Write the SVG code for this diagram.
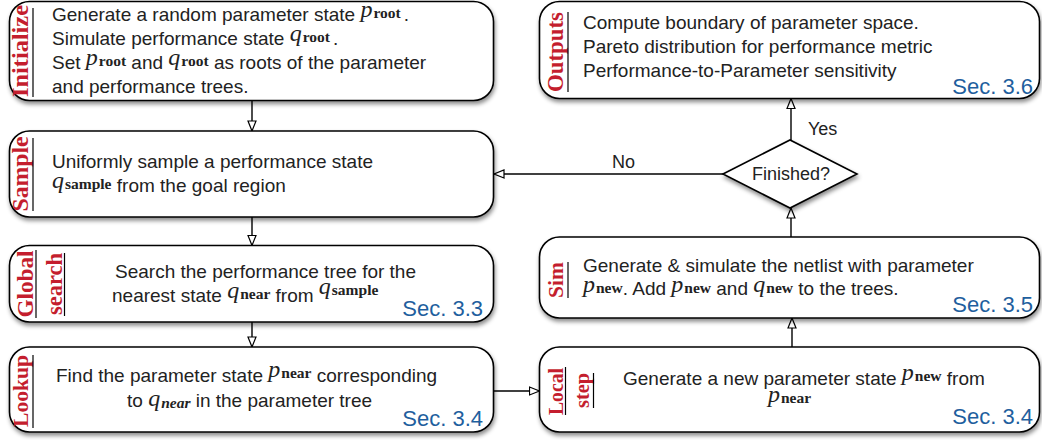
<svg xmlns="http://www.w3.org/2000/svg" width="1042" height="440" viewBox="0 0 1042 440">
  <defs>
    <filter id="shadow" x="-5%" y="-10%" width="110%" height="130%">
      <feDropShadow dx="1" dy="3" stdDeviation="2" flood-color="#000" flood-opacity="0.45"/>
    </filter>
    <marker id="arrow" viewBox="0 0 12 10" refX="11" refY="5" markerWidth="12" markerHeight="10" markerUnits="userSpaceOnUse" orient="auto">
      <path d="M1,1 L11,5 L1,9 Z" fill="#fff" stroke="#000" stroke-width="1.2" stroke-linejoin="miter"/>
    </marker>
  </defs>
  <style>
    .box { fill: #fff; stroke: #000; stroke-width: 1.6; filter: url(#shadow); }
    .t { font-family: "Liberation Sans", Arial, sans-serif; font-size: 19px; fill: #222; }
    .mi { font-family: "Liberation Serif", "Times New Roman", serif; font-style: italic; font-size: 24px; }
    .sb { font-family: "Liberation Serif", "Times New Roman", serif; font-weight: bold; font-size: 15.5px; }
    .sbi { font-family: "Liberation Serif", "Times New Roman", serif; font-weight: bold; font-style: italic; font-size: 15.5px; }
    .lbl { font-family: "Liberation Serif", "Times New Roman", serif; font-weight: bold; fill: #c41e2e; text-anchor: middle; }
    .rule { stroke: #000; stroke-width: 1.2; }
    .sec { font-family: "Liberation Sans", Arial, sans-serif; font-size: 22px; fill: #1f5f9e; text-anchor: end; }
    .edge { fill: none; stroke: #000; stroke-width: 1.4; marker-end: url(#arrow); }
    .elabel { font-family: "Liberation Sans", Arial, sans-serif; font-size: 18px; fill: #222; }
  </style>

  <!-- connectors -->
  <g id="connectors">
    <line class="edge" x1="252" y1="101" x2="252" y2="131"/>
    <line class="edge" x1="252" y1="217" x2="252" y2="245.5"/>
    <line class="edge" x1="252" y1="322" x2="252" y2="347"/>
    <line class="edge" x1="494" y1="391" x2="539.5" y2="391"/>
    <line class="edge" x1="792" y1="347" x2="792" y2="318"/>
    <line class="edge" x1="791" y1="237" x2="791" y2="208"/>
    <line class="edge" x1="791" y1="140" x2="791" y2="98.5"/>
    <line class="edge" x1="723" y1="174" x2="494" y2="174"/>
    <text class="elabel" x="808" y="135">Yes</text>
    <text class="elabel" x="612" y="168">No</text>
  </g>

  <!-- Initialize -->
  <g id="initialize">
    <rect class="box" x="9.5" y="1.5" width="484" height="99" rx="20"/>
    <text class="lbl" font-size="23" transform="translate(28,51) rotate(-90)" textLength="92" lengthAdjust="spacingAndGlyphs">Initialize</text>
    <line class="rule" x1="33" y1="8" x2="33" y2="97"/>
    <text class="t" x="52" y="21">Generate a random parameter state <tspan class="mi" dy="-4">p</tspan><tspan class="sb" dx="1" dy="1">root</tspan><tspan dx="3" dy="3">.</tspan></text>
    <text class="t" x="52" y="45">Simulate performance state <tspan class="mi" dy="-4">q</tspan><tspan class="sb" dx="1" dy="1">root</tspan><tspan dx="3" dy="3">.</tspan></text>
    <text class="t" x="52" y="69">Set <tspan class="mi" dy="-4">p</tspan><tspan class="sb" dx="1" dy="1">root</tspan><tspan dy="3"> and </tspan><tspan class="mi" dy="-4">q</tspan><tspan class="sb" dx="1" dy="1">root</tspan><tspan dy="3"> as roots of the parameter</tspan></text>
    <text class="t" x="52" y="93">and performance trees.</text>
  </g>

  <!-- Sample -->
  <g id="sample">
    <rect class="box" x="9.5" y="131" width="484" height="86" rx="20"/>
    <text class="lbl" font-size="23" transform="translate(28,174) rotate(-90)" textLength="75" lengthAdjust="spacingAndGlyphs">Sample</text>
    <line class="rule" x1="33" y1="138" x2="33" y2="211"/>
    <text class="t" x="52" y="168">Uniformly sample a performance state</text>
    <text class="t" x="52" y="192"><tspan class="mi" dy="-4">q</tspan><tspan class="sb" dx="1" dy="1">sample</tspan><tspan dy="3"> from the goal region</tspan></text>
  </g>

  <!-- Global search -->
  <g id="global-search">
    <rect class="box" x="9.5" y="245.5" width="484" height="76.5" rx="20"/>
    <text class="lbl" font-size="23" transform="translate(33,284) rotate(-90)" textLength="67" lengthAdjust="spacingAndGlyphs">Global</text>
    <line class="rule" x1="36" y1="250" x2="36" y2="318"/>
    <text class="lbl" font-size="23" transform="translate(62,284) rotate(-90)" textLength="62" lengthAdjust="spacingAndGlyphs">search</text>
    <line class="rule" x1="64.5" y1="253" x2="64.5" y2="316"/>
    <text class="t" x="115" y="278">Search the performance tree for the</text>
    <text class="t" x="112" y="302">nearest state <tspan class="mi" dy="-4">q</tspan><tspan class="sb" dx="1" dy="1">near</tspan><tspan dy="3"> from </tspan><tspan class="mi" dy="-8">q</tspan><tspan class="sb" dx="1" dy="1">sample</tspan></text>
    <text class="sec" x="483" y="316">Sec. 3.3</text>
  </g>

  <!-- Lookup -->
  <g id="lookup">
    <rect class="box" x="9.5" y="347" width="484" height="85" rx="20"/>
    <text class="lbl" font-size="22" transform="translate(28,391) rotate(-90)" textLength="72" lengthAdjust="spacingAndGlyphs">Lookup</text>
    <line class="rule" x1="33" y1="355" x2="33" y2="428"/>
    <text class="t" x="56" y="382">Find the parameter state <tspan class="mi" dy="-5">p</tspan><tspan class="sb" dx="1" dy="1">near</tspan><tspan dy="4"> corresponding</tspan></text>
    <text class="t" x="127" y="407">to <tspan class="mi" dy="-1">q</tspan><tspan class="sbi" dx="1" dy="2">near</tspan><tspan dy="-1"> in the parameter tree</tspan></text>
    <text class="sec" x="483" y="426">Sec. 3.4</text>
  </g>

  <!-- Outputs -->
  <g id="outputs">
    <rect class="box" x="539.5" y="1.5" width="500" height="97" rx="20"/>
    <text class="lbl" font-size="23" transform="translate(563,52) rotate(-90)" textLength="80" lengthAdjust="spacingAndGlyphs">Outputs</text>
    <line class="rule" x1="568" y1="12" x2="568" y2="92"/>
    <text class="t" x="583" y="29">Compute boundary of parameter space.</text>
    <text class="t" x="583" y="53">Pareto distribution for performance metric</text>
    <text class="t" x="583" y="77">Performance-to-Parameter sensitivity</text>
    <text class="sec" x="1033" y="94">Sec. 3.6</text>
  </g>

  <!-- Finished? decision -->
  <g id="finished">
    <polygon points="723,174 790,140 857,174 790,208" fill="#fff" stroke="#000" stroke-width="1.6" filter="url(#shadow)"/>
    <text class="elabel" x="791" y="180" text-anchor="middle">Finished?</text>
  </g>

  <!-- Sim -->
  <g id="sim">
    <rect class="box" x="539.5" y="237" width="500" height="81" rx="20"/>
    <text class="lbl" font-size="22" transform="translate(563,280) rotate(-90)" textLength="36" lengthAdjust="spacingAndGlyphs">Sim</text>
    <line class="rule" x1="568" y1="262" x2="568" y2="298"/>
    <text class="t" x="583" y="272">Generate &amp; simulate the netlist with parameter</text>
    <text class="t" x="583" y="295"><tspan class="mi" dy="-3">p</tspan><tspan class="sb" dx="1" dy="1">new</tspan><tspan dy="2">. Add </tspan><tspan class="mi" dy="-3">p</tspan><tspan class="sb" dx="1" dy="1">new</tspan><tspan dy="2"> and </tspan><tspan class="mi" dy="-3">q</tspan><tspan class="sb" dx="1" dy="1">new</tspan><tspan dy="2"> to the trees.</tspan></text>
    <text class="sec" x="1033" y="312">Sec. 3.5</text>
  </g>

  <!-- Local step -->
  <g id="local-step">
    <rect class="box" x="539.5" y="347" width="500" height="85" rx="20"/>
    <text class="lbl" font-size="20" transform="translate(563,391.5) rotate(-90)" textLength="47" lengthAdjust="spacingAndGlyphs">Local</text>
    <line class="rule" x1="565.5" y1="367" x2="565.5" y2="415"/>
    <text class="lbl" font-size="20" transform="translate(589,390.5) rotate(-90)" textLength="35" lengthAdjust="spacingAndGlyphs">step</text>
    <line class="rule" x1="593.5" y1="373" x2="593.5" y2="408"/>
    <text class="t" x="623" y="385">Generate a new parameter state <tspan class="mi" dy="-5">p</tspan><tspan class="sb" dx="1" dy="1">new</tspan><tspan dy="4"> from</tspan></text>
    <text class="t" x="768" y="402"><tspan class="mi">p</tspan><tspan class="sb" dx="1" dy="1">near</tspan></text>
    <text class="sec" x="1033" y="424">Sec. 3.4</text>
  </g>
</svg>
